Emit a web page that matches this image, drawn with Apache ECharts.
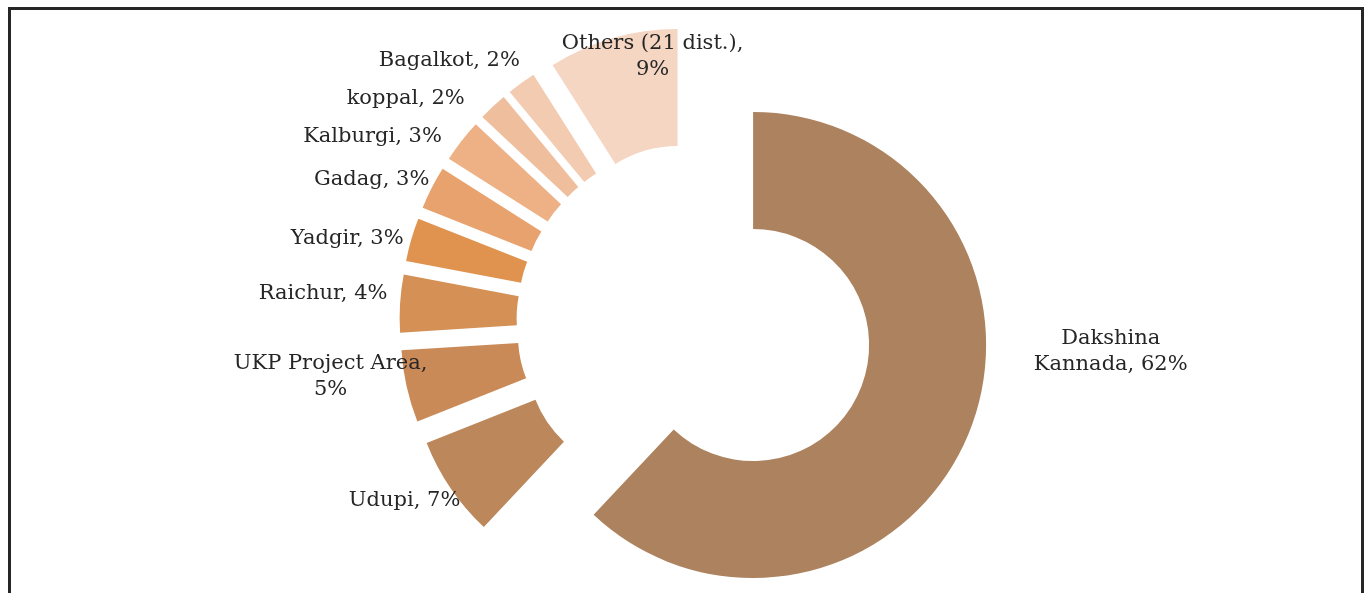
<!DOCTYPE html>
<html>
<head>
<meta charset="utf-8">
<script src="https://cdn.jsdelivr.net/npm/echarts@6/dist/echarts.min.js"></script>
<style>
  html, body { margin: 0; padding: 0; background: #ffffff; }
  #main { width: 1368px; height: 593px; }
</style>
</head>
<body>
<div id="main"></div>
<script>
// Share of districts (percent)
const districts = ['Dakshina Kannada', 'Udupi', 'UKP Project Area', 'Raichur', 'Yadgir',
                   'Gadag', 'Kalburgi', 'koppal', 'Bagalkot', 'Others (21 dist.)'];
const shares = [62, 7, 5, 4, 3, 3, 3, 2, 2, 9];
// how each label wraps: 'name' breaks inside the name, 'value' breaks before the value
const labelWrap = ['name', 'none', 'value', 'none', 'none', 'none', 'none', 'none', 'none', 'value'];
const sliceColors = ['#ad825e', '#bc875a', '#c98a58', '#d49055', '#e0934f',
                     '#e8a26d', '#eeb186', '#efbe9d', '#f2cbb0', '#f5d6c3'];

// Layout
const CENTER = [695, 322];
const RADIUS = [116, 233];
const EXPLODE = 62.5;
// label centre relative to the outer middle of its exploded slice
const LABEL_NUDGE = [[141, -79], [-46, 12], [-76, -10], [-77, -10], [-64, -1],
                     [-60, -8], [-89, -4], [-87, -8], [-72, -22], [40, 18]];

const total = shares.reduce((a, b) => a + b, 0);
function midAngle(i) {
  let acc = 0;
  for (let k = 0; k < i; k++) acc += shares[k];
  return (acc + shares[i] / 2) / total * 2 * Math.PI;
}

function labelText(p) {
  const w = labelWrap[p.dataIndex];
  if (w === 'name') return p.name.replace(' ', '\n') + ', ' + p.value + '%';
  if (w === 'value') return p.name + ',\n' + p.value + '%';
  return p.name + ', ' + p.value + '%';
}

const baseData = districts.map((name, i) => ({ name: name, value: shares[i] }));

const chart = echarts.init(document.getElementById('main'), null, { renderer: 'canvas' });
chart.setOption({
  animation: false,
  backgroundColor: '#ffffff',
  graphic: [{
    type: 'rect',
    shape: { x: 9.5, y: 8.5, width: 1353, height: 700 },
    style: { fill: 'none', stroke: '#262626', lineWidth: 3 },
    silent: true
  }],
  series: [{
    // exploded doughnut: every slice is pushed out along its bisector
    type: 'pie',
    center: CENTER,
    radius: RADIUS,
    startAngle: 90,
    clockwise: true,
    selectedMode: 'multiple',
    selectedOffset: EXPLODE,
    data: baseData.map((d, i) => ({
      name: d.name, value: d.value, selected: true,
      itemStyle: { color: sliceColors[i] }
    })),
    itemStyle: { borderWidth: 0 },
    select: { itemStyle: { borderWidth: 0 } },
    emphasis: { disabled: true },
    label: { show: false },
    labelLine: { show: false }
  }, {
    // data labels of the same shares
    type: 'pie',
    center: CENTER,
    radius: RADIUS,
    startAngle: 90,
    clockwise: true,
    silent: true,
    z: 5,
    avoidLabelOverlap: false,
    data: baseData,
    itemStyle: { color: 'rgba(0,0,0,0)', borderWidth: 0 },
    emphasis: { disabled: true },
    label: {
      show: true,
      position: 'outside',
      fontFamily: 'DejaVu Serif',
      fontSize: 21,
      lineHeight: 26,
      color: '#262626',
      formatter: labelText
    },
    labelLine: { show: false },
    labelLayout: function (p) {
      const i = p.dataIndex;
      const a = midAngle(i);
      const rr = EXPLODE + RADIUS[1];
      return {
        x: CENTER[0] + Math.sin(a) * rr + LABEL_NUDGE[i][0],
        y: CENTER[1] - Math.cos(a) * rr + LABEL_NUDGE[i][1],
        align: 'center',
        verticalAlign: 'middle'
      };
    }
  }]
});
</script>
</body>
</html>
